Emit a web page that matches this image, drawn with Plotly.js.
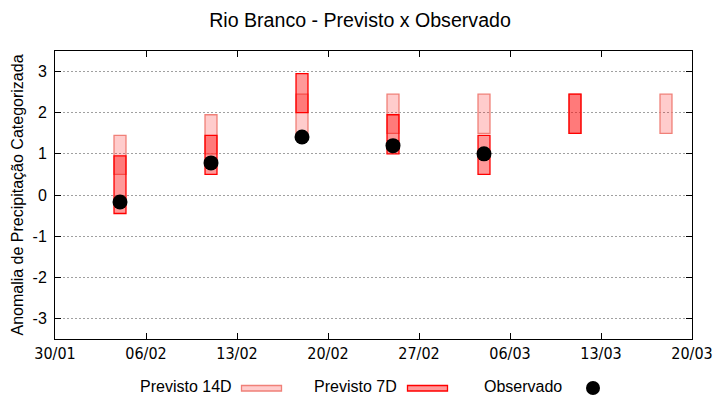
<!DOCTYPE html>
<html>
<head>
<meta charset="utf-8">
<script src="https://cdn.plot.ly/plotly-3.0.1.min.js"></script>
<style>
html,body{margin:0;padding:0;background:#fff;}
#chart{width:720px;height:400px;}
</style>
</head>
<body>
<div id="chart"></div>
<script>
// ---- data ----
var weeks = ['2023-02-04','2023-02-11','2023-02-18','2023-02-25','2023-03-04','2023-03-11','2023-03-18'];
var prev14Low  = [0.5, 1.0, 1.5, 1.5, 1.5, 1.5, 1.5];
var prev14High = [1.45, 1.95, 2.45, 2.45, 2.45, 2.45, 2.45];
var prev7Low   = [-0.45, 0.5, 2.0, 1.0, 0.5, 1.5, null];
var prev7High  = [0.95, 1.45, 2.95, 1.95, 1.45, 2.45, null];
var observed   = [-0.17, 0.78, 1.41, 1.2, 1.0, null, null];
var yTicks = [-3, -2, -1, 0, 1, 2, 3];
var legendLabels = ['Previsto 14D', 'Previsto 7D', 'Observado'];
var titleText = 'Rio Branco - Previsto x Observado';
var yTitle = 'Anomalia de Precipitação Categorizada';

function spans(lo, hi){ return lo.map(function(v,i){ return (v==null||hi[i]==null)?null:hi[i]-v; }); }

var DAY = 86400000;
var W = 720, H = 400;
var M = {l:55, r:28, t:51, b:61};
var PW = W - M.l - M.r, PH = H - M.t - M.b;
function px(x){ return (x - M.l)/PW; }
function py(y){ return (H - M.b - y)/PH; }

var c14Fill = 'rgba(255,0,0,0.2)', c14Line = '#f08078';
var c7Fill = 'rgba(255,0,0,0.4)', c7Line = '#ff0000';

var traces = [
  {type:'bar', x:weeks, y:spans(prev14Low, prev14High), base:prev14Low, width:0.92*DAY,
   marker:{color:c14Fill, line:{color:c14Line, width:1.3}}, name:legendLabels[0], showlegend:false, hoverinfo:'skip'},
  {type:'bar', x:weeks, y:spans(prev7Low, prev7High), base:prev7Low, width:0.92*DAY,
   marker:{color:c7Fill, line:{color:c7Line, width:1.3}}, name:legendLabels[1], showlegend:false, hoverinfo:'skip'},
  {type:'scatter', mode:'markers', x:weeks, y:observed, name:legendLabels[2],
   marker:{color:'#000', size:15}, showlegend:false, hoverinfo:'skip'}
];

var legFont = {family:'Liberation Sans, Arial, sans-serif', size:16, color:'#000'};
var layout = {
  width:W, height:H,
  margin:M,
  paper_bgcolor:'#fff', plot_bgcolor:'#fff',
  barmode:'overlay',
  showlegend:false,
  font:{family:'Liberation Sans, Arial, sans-serif', size:16, color:'#000'},
  title:{text:titleText, x:0.5, xanchor:'center', xref:'container', y:1-20/H, yanchor:'middle',
         font:{family:'Liberation Sans, Arial, sans-serif', size:19.6, color:'#000'}},
  xaxis:{type:'date', range:['2023-01-30','2023-03-20'], tick0:'2023-01-30', dtick:7*DAY,
         tickformat:'%d/%m', ticks:'inside', ticklen:6, tickcolor:'#000', mirror:'ticks',
         showline:true, linecolor:'#000', linewidth:1, showgrid:false, zeroline:false,
         tickfont:{family:'Liberation Sans Narrow, DejaVu Sans Condensed, sans-serif', size:16, color:'#000'}},
  yaxis:{range:[-3.5,3.5], tickvals:yTicks, ticktext:yTicks.map(String), ticks:'inside', ticklen:6,
         tickcolor:'#000', mirror:'ticks', showline:true, linecolor:'#000', linewidth:1,
         ticklabelstandoff:4,
         showgrid:true, gridcolor:'#a0a0a0', gridwidth:1, griddash:'2px,2px', zeroline:false,
         tickfont:{family:'Liberation Sans, Arial, sans-serif', size:16, color:'#000'},
         title:{text:yTitle, standoff:4, font:{family:'Liberation Sans, Arial, sans-serif', size:16, color:'#000'}}},
  annotations:[
    {xref:'paper', yref:'paper', x:px(234), y:py(386), xanchor:'right', yanchor:'middle', text:legendLabels[0], showarrow:false, font:legFont},
    {xref:'paper', yref:'paper', x:px(399), y:py(386), xanchor:'right', yanchor:'middle', text:legendLabels[1], showarrow:false, font:legFont},
    {xref:'paper', yref:'paper', x:px(564), y:py(386), xanchor:'right', yanchor:'middle', text:legendLabels[2], showarrow:false, font:legFont}
  ],
  shapes:[
    {type:'rect', xref:'paper', yref:'paper', x0:px(241.5), x1:px(281.5), y0:py(391), y1:py(385.5), fillcolor:c14Fill, line:{color:c14Line, width:1.3}},
    {type:'rect', xref:'paper', yref:'paper', x0:px(407.5), x1:px(447.5), y0:py(391), y1:py(385.5), fillcolor:c7Fill, line:{color:c7Line, width:1.3}},
    {type:'circle', xref:'paper', yref:'paper', x0:px(586), x1:px(600), y0:py(395), y1:py(381), fillcolor:'#000', line:{color:'#000', width:0}}
  ]
};

Plotly.newPlot('chart', traces, layout, {staticPlot:true, displayModeBar:false});
</script>
</body>
</html>
